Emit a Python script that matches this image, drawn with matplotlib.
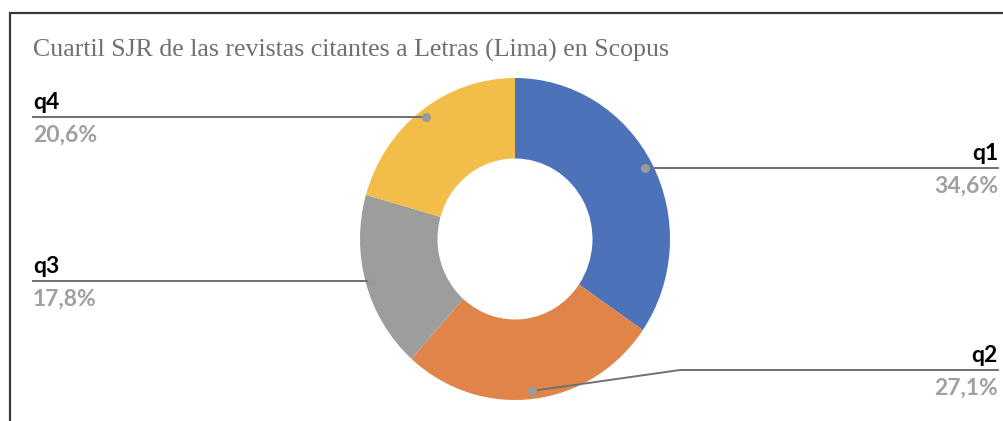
import matplotlib.pyplot as plt
from matplotlib.patches import Rectangle

# data
labels = ['q1', 'q2', 'q3', 'q4']
values = [34.6, 27.1, 17.8, 20.6]
pct_text = ['34,6%', '27,1%', '17,8%', '20,6%']
colors = ['#4C72B9', '#E0844A', '#9C9E9E', '#F3BD4A']
title = 'Cuartil SJR de las revistas citantes a Letras (Lima) en Scopus'

W, H = 1004, 421
fig = plt.figure(figsize=(W/100, H/100), dpi=100)

def fx(x):
    return x / W

def fy(y):
    return 1 - y / H

# frame around the chart (right and bottom run off the picture)
fig.patches.append(Rectangle((fx(10), -0.1), 1.2, fy(13) + 0.1, transform=fig.transFigure,
                             fill=False, edgecolor='#3a3a3a', linewidth=1.6))

fig.text(fx(33), fy(57), title, family='Liberation Serif', fontsize=18.6,
         color='#707070', va='baseline', ha='left')

# donut
cx, cy, rx, ry = 515, 239, 155, 161
ax = fig.add_axes([fx(cx - rx), fy(cy + ry), 2*rx/W, 2*ry/H])
wedges, _ = ax.pie(values, colors=colors, startangle=90, counterclock=False,
                   wedgeprops=dict(width=0.5, linewidth=0))
ax.set_aspect('auto')
ax.set_xlim(-1, 1)
ax.set_ylim(-1, 1)
ax.axis('off')

# leader lines and labels (pixel layout)
line_c = '#707070'
dots = {'q1': (645, 168), 'q2': (532, 391), 'q3': (372, 281), 'q4': (426, 117)}
lines = {
    'q1': [(645, 168), (998, 168)],
    'q2': [(532, 391), (680, 370), (998, 370)],
    'q3': [(372, 281), (33, 281)],
    'q4': [(426, 117), (33, 117)],
}
side = {'q1': 'right', 'q2': 'right', 'q3': 'left', 'q4': 'left'}

for i, lab in enumerate(labels):
    pts = lines[lab]
    fig.add_artist(plt.Line2D([fx(p[0]) for p in pts], [fy(p[1]) for p in pts],
                              color=line_c, linewidth=1.4, transform=fig.transFigure))
    dx, dy = dots[lab]
    fig.add_artist(plt.Line2D([fx(dx)], [fy(dy)], marker='o', markersize=5.5,
                              color='#9a9a9a', transform=fig.transFigure))
    ly = pts[-1][1]
    tx = 998 if side[lab] == 'right' else 33
    fig.text(fx(tx), fy(ly - 8), lab, family='Lato', fontweight='bold', fontsize=16.5,
             color='black', ha=side[lab], va='baseline')
    fig.text(fx(tx), fy(ly + 8), pct_text[i], family='Lato', fontweight='bold', fontsize=16.5,
             color='#a0a0a0', ha=side[lab], va='top')

fig.savefig('out.png', dpi=100, facecolor='white')
